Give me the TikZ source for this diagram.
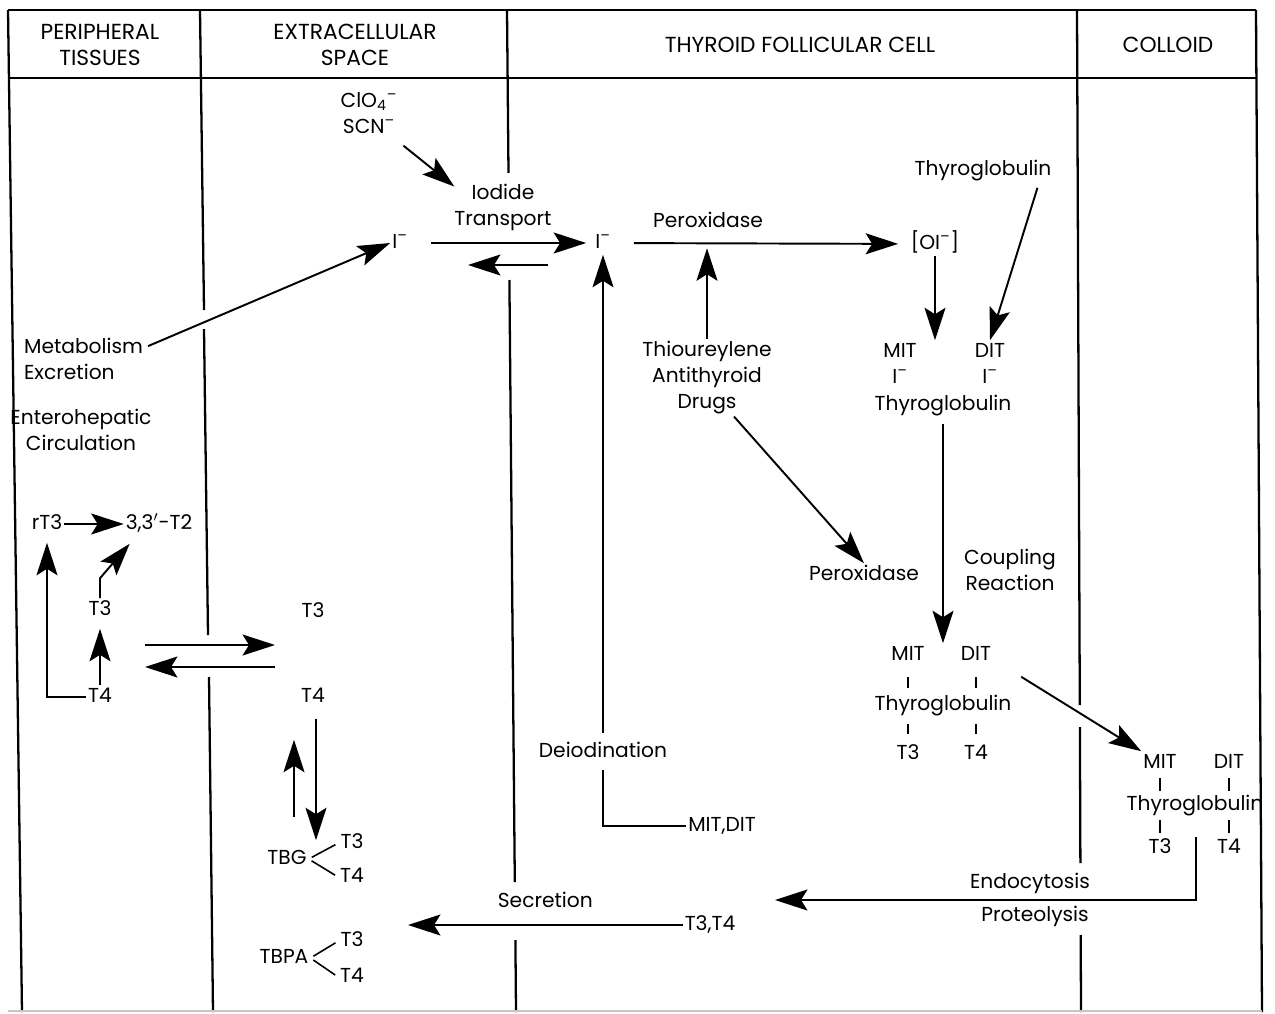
\documentclass[tikz,border=0pt]{standalone}
\usepackage{fontspec}
\setmainfont{Poppins}
\usepackage{tikz}
\usetikzlibrary{arrows.meta, positioning, calc}
\newcommand{\supminus}{\textsuperscript{–}}

\begin{document}
\begin{tikzpicture}[
    x=0.02cm, y=-0.02cm,
    lbl/.style={inner sep=1pt, text height=8.5pt, text depth=2.5pt, font=\fontsize{11.5}{14.8}\selectfont},
    blk/.style={inner sep=1pt, align=center, font=\fontsize{11.5}{14.8}\selectfont},
    hd/.style={inner sep=1pt, align=center, font=\fontsize{12.4}{14.8}\selectfont},
    arrow/.style={-{Stealth[length=6.5mm, width=4.2mm, inset=1.3mm]}, line width=1.1pt},
    wall/.style={line width=1.3pt},
    tick/.style={line width=0.9pt}
  ]
  \useasboundingbox (0,0) rectangle (1275,1014);

  % frame and columns
  \draw[wall] (8,10) -- (1256,10);
  \draw[wall] (8,78) -- (1256,78);
  \draw[wall] (8,10) -- (22,1012);
  \draw[wall] (1256,10) -- (1262,1012);
  \draw[wall] (200,10) -- (204,310) (204,329) -- (208,635) (209,677) -- (213,1012);
  \draw[wall] (507,10) -- (508.5,173) (509.4,280) -- (514.8,882) (515.4,940) -- (516,1012);
  \draw[wall] (1077,10) -- (1079.8,705) (1079.9,727) -- (1080.4,863) (1080.7,935) -- (1081,1012);
  \draw[gray!45, line width=1.2pt] (8,1011) -- (1262,1011);

  \node[hd] (peri) at (100,45) {PERIPHERAL\\TISSUES};
  \node[hd] (extra) at (355,45) {EXTRACELLULAR\\SPACE};
  \node[hd] (cell) at (800,45) {THYROID FOLLICULAR CELL};
  \node[hd] (coll) at (1168,45) {COLLOID};

  % iodide uptake and organification
  \node[blk] (anion) at (369,113) {ClO\textsubscript{4}\supminus\\SCN\supminus};
  \node[blk] (trans) at (503,207) {Iodide\\Transport};
  \node[lbl] (iL) at (400,243) {I\supminus};
  \node[lbl] (iR) at (603,243) {I\supminus};
  \node[lbl] (perox) at (708,222) {Peroxidase};
  \node[lbl] (oi) at (935,244) {[OI\supminus]};
  \node[lbl] (tgtop) at (983,170) {Thyroglobulin};
  \node[blk] (drugs) at (707,378) {Thioureylene\\Antithyroid\\Drugs};
  \node[lbl] (mit1) at (900,352) {MIT};
  \node[lbl] (dit1) at (990,352) {DIT};
  \node[lbl] (i1) at (900,378) {I\supminus};
  \node[lbl] (i2) at (990,378) {I\supminus};
  \node[lbl] (tg1) at (943,405) {Thyroglobulin};
  \node[lbl] (perox2) at (864,575) {Peroxidase};
  \node[blk] (coup) at (1010,570) {Coupling\\Reaction};
  \node[lbl] (mit2) at (908,655) {MIT};
  \node[lbl] (dit2) at (976,655) {DIT};
  \node[lbl] (tg2) at (943,705) {Thyroglobulin};
  \node[lbl] (t3c) at (908,754) {T3};
  \node[lbl] (t4c) at (976,754) {T4};
  \node[lbl] (mit3) at (1160,763) {MIT};
  \node[lbl] (dit3) at (1229,763) {DIT};
  \node[lbl] (tg3) at (1195,805) {Thyroglobulin};
  \node[lbl] (t3d) at (1160,848) {T3};
  \node[lbl] (t4d) at (1229,848) {T4};
  \node[lbl] (endo) at (1030,883) {Endocytosis};
  \node[lbl] (prot) at (1035,916) {Proteolysis};
  \node[lbl] (midit) at (722,826) {MIT,DIT};
  \node[lbl] (t34) at (710,925) {T3,T4};

  % peripheral tissues
  \node[blk, align=left, anchor=west] (meta) at (22,359) {Metabolism\\Excretion};
  \node[blk] (entero) at (81,430) {Enterohepatic\\Circulation};
  \node[lbl] (rt3) at (47,524) {rT3};
  \node[lbl] (t2) at (159,524) {3,3$'$-T2};
  \node[lbl] (t3a) at (100,610) {T3};
  \node[lbl] (t4a) at (100,697) {T4};

  % extracellular space
  \node[lbl] (t3b) at (313,612) {T3};
  \node[lbl] (t4b) at (313,697) {T4};
  \node[lbl] (tbg) at (287,859) {TBG};
  \node[lbl] (tbg3) at (352,843) {T3};
  \node[lbl] (tbg4) at (352,877) {T4};
  \node[lbl] (tbpa) at (284,958) {TBPA};
  \node[lbl] (tbpa3) at (352,941) {T3};
  \node[lbl] (tbpa4) at (352,977) {T4};

  \coordinate (back) at (548,265);
  \coordinate (exL) at (145,656);
  \coordinate (exR) at (275,656);
  \coordinate (plasma) at (408,925);
  \coordinate (uptake) at (775,900);

  \draw[arrow] ($(anion.south east)+(4,10)$) -- ($(trans.north west)+(2,5)$);
  \draw[arrow, shorten <=12pt, shorten >=4pt] (iL) -- (iR);
  \draw[arrow] (back) -- ++(-80,0);
  \draw[arrow, shorten <=12pt, shorten >=6pt] (iR) -- (oi);
  \draw[arrow, shorten >=3pt] (drugs.north) -- (drugs.north |- iR);
  \draw[arrow] (drugs.-55) -- (perox2.north);
  \draw[arrow] ($(tgtop.south east)+(-16,6)$) -- (dit1.north);
  \draw[arrow] (oi.south) -- (mit1.north -| oi.south);
  \draw[arrow, shorten <=4pt] (tg1.south) -- (tg1.south |- mit2.north);
  \foreach \n in {mit2,dit2} \draw[tick] (\n.south) ++(0,10) -- ++(0,11);
  \foreach \n in {t3c,t4c} \draw[tick] (\n.north) ++(0,-8) -- ++(0,-10);
  \draw[arrow] ($(dit2.south east)+(28,10)$) -- (mit3.north west);
  \foreach \n in {mit3,dit3} \draw[tick] (\n.south) ++(0,3) -- ++(0,13);
  \foreach \n in {t3d,t4d} \draw[tick] (\n.north) ++(0,-3) -- ++(0,-13);
  \draw[arrow] ($(tg3.south)+(1,20)$) |- (uptake);
  \draw[arrow] (t34) -- node[lbl, above=6pt] (secr) {Secretion} (plasma);
  \draw[arrow] (midit.west) -| node[pos=0.565, lbl, fill=white, inner ysep=5pt] (deio) {Deiodination} (iR.south);

  \draw[arrow] ($(meta.north east)+(3,10)$) -- (iL.west);
  \draw[arrow] (rt3) -- (t2);
  \draw[arrow] (t3a.north) -- ++(0,-20) -- ($(t2.south west)+(6,8)$);
  \draw[arrow, shorten >=4pt] (t4a) -- (t3a);
  \draw[arrow, shorten >=4pt] (t4a.west) -| (rt3.south);
  \draw[arrow] ($(exL)+(0,-11)$) -- ($(exR)+(0,-11)$);
  \draw[arrow] ($(exR)+(0,11)$) -- ($(exL)+(0,11)$);

  \draw[arrow] ($(t4b.south)+(3,10)$) -- ($(t4b.south |- tbg.north)+(3,-7)$);
  \draw[arrow] ($(tbg.north)+(7,-30)$) -- ($(t4b.south)+(-19,31)$);
  \foreach \b/\t in {tbg/tbg3, tbg/tbg4, tbpa/tbpa3, tbpa/tbpa4}
    \draw[tick, shorten <=2pt, shorten >=2pt] (\b.east) -- (\t.west);
\end{tikzpicture}
\end{document}
